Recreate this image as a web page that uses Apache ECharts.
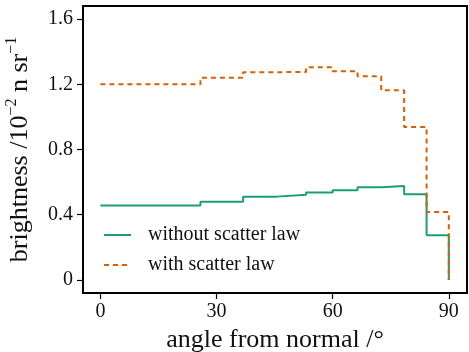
<!DOCTYPE html>
<html>
<head>
<meta charset="utf-8">
<script src="https://cdn.jsdelivr.net/npm/echarts@6/dist/echarts.min.js"></script>
<style>
html,body{margin:0;padding:0;background:#fff;}
#c{width:469px;height:352px;}
</style>
</head>
<body>
<div id="c"></div>
<script>
// bin edges (deg) — equal cosine bins
var binEdges = [0, 25.84, 36.87, 45.57, 53.13, 60, 66.42, 72.54, 78.46, 84.26, 90];
var withoutScatter = [0.456, 0.480, 0.511, 0.523, 0.537, 0.550, 0.568, 0.576, 0.525, 0.274];
var withScatter = [1.200, 1.240, 1.274, 1.276, 1.304, 1.280, 1.249, 1.163, 0.938, 0.417];
var seriesNames = ['without scatter law', 'with scatter law'];
var xTicks = [0, 30, 60, 90];
var yTicks = [0, 0.4, 0.8, 1.2, 1.6];
var yTickLabels = ['0', '0.4', '0.8', '1.2', '1.6'];

function stepData(vals) {
  var d = [];
  for (var i = 0; i < vals.length; i++) d.push([binEdges[i], vals[i]]);
  d.push([binEdges[binEdges.length - 1], 0]);
  return d;
}

var FONT = "'Liberation Serif', 'DejaVu Serif', serif";
var chart = echarts.init(document.getElementById('c'), null, {renderer: 'canvas'});
chart.setOption({
  animation: false,
  backgroundColor: '#fff',
  textStyle: {fontFamily: FONT},
  grid: {left: 83, right: 2, top: 6, bottom: 59, show: true, borderColor: '#000', borderWidth: 2,
         containLabel: false, outerBoundsMode: 'none'},
  legend: {
    orient: 'vertical', left: 98, top: 220,
    itemWidth: 27, itemHeight: 14, itemGap: 10,
    itemStyle: {opacity: 0},
    textStyle: {fontFamily: FONT, fontSize: 20, color: '#111', padding: [0, 0, 0, 12]},
    data: seriesNames
  },
  xAxis: {
    type: 'value', min: -4.5, max: 94.7,
    name: 'angle from normal /°', nameLocation: 'middle', nameGap: 28,
    nameTextStyle: {fontFamily: FONT, fontSize: 26, color: '#111'},
    axisLine: {show: true, onZero: false, lineStyle: {color: '#000', width: 2}},
    axisTick: {show: true, length: 6, lineStyle: {color: '#000', width: 1.2}, customValues: xTicks},
    axisLabel: {fontFamily: FONT, fontSize: 20, color: '#111', margin: 9, customValues: xTicks},
    splitLine: {show: false}
  },
  yAxis: {
    type: 'value', min: -0.08, max: 1.68,
    name: 'brightness /10{sup|−2} n sr{sup|−1}', nameLocation: 'middle', nameGap: 35, nameRotate: 90,
    nameTextStyle: {
      fontFamily: FONT, fontSize: 26, color: '#111', lineHeight: 33, verticalAlign: 'bottom',
      rich: {sup: {fontFamily: FONT, fontSize: 16, color: '#111', verticalAlign: 'top', lineHeight: 16}}
    },
    axisLine: {show: true, onZero: false, lineStyle: {color: '#000', width: 2}},
    axisTick: {show: true, length: 6, lineStyle: {color: '#000', width: 1.2}, customValues: yTicks},
    axisLabel: {
      fontFamily: FONT, fontSize: 20, color: '#111', margin: 10, customValues: yTicks,
      formatter: function (v) { var i = yTicks.indexOf(v); return i >= 0 ? yTickLabels[i] : ''; }
    },
    splitLine: {show: false}
  },
  series: [
    {
      name: seriesNames[0], type: 'line', step: 'end', showSymbol: false, symbol: 'none',
      data: stepData(withoutScatter),
      lineStyle: {color: '#1b9e77', width: 2},
      itemStyle: {color: '#1b9e77'}, z: 2
    },
    {
      name: seriesNames[1], type: 'line', step: 'end', showSymbol: false, symbol: 'none',
      data: stepData(withScatter),
      lineStyle: {color: '#d95f02', width: 2, type: [5, 4]},
      itemStyle: {color: '#d95f02'}, z: 3
    }
  ]
});
</script>
</body>
</html>
